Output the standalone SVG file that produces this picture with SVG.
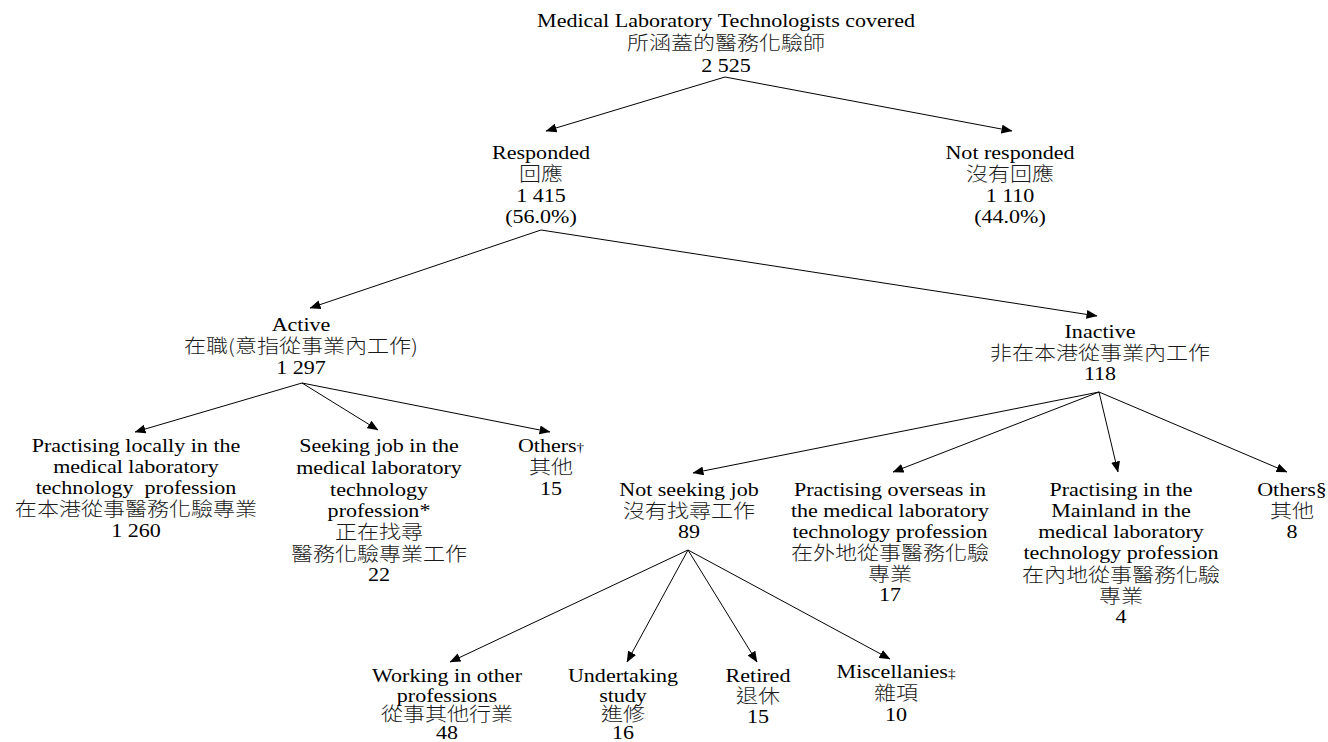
<svg xmlns="http://www.w3.org/2000/svg" width="1328" height="742" viewBox="0 0 1328 742">
<defs>
<style>
.t{font-family:"Liberation Serif","Noto Sans CJK TC",serif;font-size:19px;text-anchor:middle;fill:#000}
.c{font-family:"Noto Sans CJK TC","Noto Sans CJK SC",sans-serif;font-size:19px;font-weight:300;text-anchor:middle;fill:#1a1a1a}
.s{font-size:13px}
.e{fill:none;stroke:#000;stroke-width:1;marker-end:url(#ah)}
</style>
<marker id="ah" markerUnits="userSpaceOnUse" markerWidth="11" markerHeight="9" refX="10.5" refY="4.5" orient="auto" viewBox="0 0 11 9">
<path d="M0,0 L11,4.5 L0,9 z" fill="#000"/>
</marker>
</defs>
<rect width="1328" height="742" fill="#fff"/>
<g id="connectors">
<line class="e" x1="725" y1="77" x2="546" y2="131"/>
<line class="e" x1="725" y1="77" x2="1012" y2="131"/>
<line class="e" x1="541" y1="230" x2="310" y2="308"/>
<line class="e" x1="541" y1="230" x2="1097" y2="316"/>
<line class="e" x1="302" y1="383" x2="135" y2="432"/>
<line class="e" x1="302" y1="383" x2="378" y2="430"/>
<line class="e" x1="302" y1="383" x2="550" y2="432"/>
<line class="e" x1="1099" y1="392" x2="693" y2="473"/>
<line class="e" x1="1099" y1="392" x2="893" y2="472"/>
<line class="e" x1="1099" y1="392" x2="1118" y2="472"/>
<line class="e" x1="1099" y1="392" x2="1287" y2="472"/>
<line class="e" x1="688" y1="550" x2="450" y2="662"/>
<line class="e" x1="688" y1="550" x2="627" y2="662"/>
<line class="e" x1="688" y1="550" x2="757" y2="662"/>
<line class="e" x1="688" y1="550" x2="890" y2="659"/>
</g>
<g id="n-top" transform="translate(726 0) scale(1.16 1)">
<text class="t" x="0" y="27">Medical Laboratory Technologists covered</text>
<text class="c" x="0" y="50">所涵蓋的醫務化驗師</text>
<text class="t" x="0" y="72">2 525</text>
</g>
<g id="n-responded" transform="translate(541 0) scale(1.16 1)">
<text class="t" x="0" y="159">Responded</text>
<text class="c" x="0" y="181">回應</text>
<text class="t" x="0" y="202">1 415</text>
<text class="t" x="0" y="223">(56.0%)</text>
</g>
<g id="n-notresponded" transform="translate(1010 0) scale(1.16 1)">
<text class="t" x="0" y="159">Not responded</text>
<text class="c" x="0" y="181">沒有回應</text>
<text class="t" x="0" y="202">1 110</text>
<text class="t" x="0" y="223">(44.0%)</text>
</g>
<g id="n-active" transform="translate(301 0) scale(1.16 1)">
<text class="t" x="0" y="331">Active</text>
<text class="c" x="0" y="353">在職(意指從事業內工作)</text>
<text class="t" x="0" y="374">1 297</text>
</g>
<g id="n-inactive" transform="translate(1100 0) scale(1.16 1)">
<text class="t" x="0" y="338">Inactive</text>
<text class="c" x="0" y="360">非在本港從事業內工作</text>
<text class="t" x="0" y="380">118</text>
</g>
<g id="n-local" transform="translate(136 0) scale(1.16 1)">
<text class="t" x="0" y="452">Practising locally in the</text>
<text class="t" x="0" y="473">medical laboratory</text>
<text class="t" x="0" y="494" xml:space="preserve">technology  profession</text>
<text class="c" x="0" y="516">在本港從事醫務化驗專業</text>
<text class="t" x="0" y="537">1 260</text>
</g>
<g id="n-seeking" transform="translate(379 0) scale(1.16 1)">
<text class="t" x="0" y="452">Seeking job in the</text>
<text class="t" x="0" y="474">medical laboratory</text>
<text class="t" x="0" y="496">technology</text>
<text class="t" x="0" y="517">profession*</text>
<text class="c" x="0" y="539">正在找尋</text>
<text class="c" x="0" y="561">醫務化驗專業工作</text>
<text class="t" x="0" y="581">22</text>
</g>
<g id="n-others1" transform="translate(551 0) scale(1.16 1)">
<text class="t" x="0" y="452">Others<tspan class="s">†</tspan></text>
<text class="c" x="0" y="474">其他</text>
<text class="t" x="0" y="495">15</text>
</g>
<g id="n-notseeking" transform="translate(689 0) scale(1.16 1)">
<text class="t" x="0" y="496">Not seeking job</text>
<text class="c" x="0" y="518">沒有找尋工作</text>
<text class="t" x="0" y="538">89</text>
</g>
<g id="n-overseas" transform="translate(890 0) scale(1.16 1)">
<text class="t" x="0" y="496">Practising overseas in</text>
<text class="t" x="0" y="517">the medical laboratory</text>
<text class="t" x="0" y="538">technology profession</text>
<text class="c" x="0" y="560">在外地從事醫務化驗</text>
<text class="c" x="0" y="581">專業</text>
<text class="t" x="0" y="601">17</text>
</g>
<g id="n-mainland" transform="translate(1121 0) scale(1.16 1)">
<text class="t" x="0" y="496">Practising in the</text>
<text class="t" x="0" y="517">Mainland in the</text>
<text class="t" x="0" y="538">medical laboratory</text>
<text class="t" x="0" y="559">technology profession</text>
<text class="c" x="0" y="582">在內地從事醫務化驗</text>
<text class="c" x="0" y="603">專業</text>
<text class="t" x="0" y="623">4</text>
</g>
<g id="n-others2" transform="translate(1292 0) scale(1.16 1)">
<text class="t" x="0" y="496">Others§</text>
<text class="c" x="0" y="518">其他</text>
<text class="t" x="0" y="538">8</text>
</g>
<g id="n-working" transform="translate(447 0) scale(1.16 1)">
<text class="t" x="0" y="682">Working in other</text>
<text class="t" x="0" y="702">professions</text>
<text class="c" x="0" y="721">從事其他行業</text>
<text class="t" x="0" y="739">48</text>
</g>
<g id="n-study" transform="translate(623 0) scale(1.16 1)">
<text class="t" x="0" y="682">Undertaking</text>
<text class="t" x="0" y="702">study</text>
<text class="c" x="0" y="721">進修</text>
<text class="t" x="0" y="739">16</text>
</g>
<g id="n-retired" transform="translate(758 0) scale(1.16 1)">
<text class="t" x="0" y="682">Retired</text>
<text class="c" x="0" y="703">退休</text>
<text class="t" x="0" y="723">15</text>
</g>
<g id="n-misc" transform="translate(896 0) scale(1.16 1)">
<text class="t" x="0" y="678">Miscellanies<tspan class="s">‡</tspan></text>
<text class="c" x="0" y="700">雜項</text>
<text class="t" x="0" y="721">10</text>
</g>
</svg>
